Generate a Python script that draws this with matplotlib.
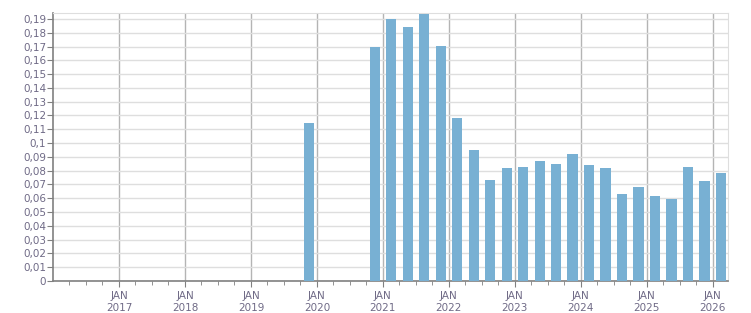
import matplotlib
matplotlib.use("Agg")
import matplotlib.pyplot as plt
from matplotlib.ticker import FixedLocator, FuncFormatter

# Quarterly data: (year, quarter) -> value
quarters = ["2019Q4", "2020Q4", "2021Q1", "2021Q2", "2021Q3", "2021Q4",
            "2022Q1", "2022Q2", "2022Q3", "2022Q4", "2023Q1", "2023Q2",
            "2023Q3", "2023Q4", "2024Q1", "2024Q2", "2024Q3", "2024Q4",
            "2025Q1", "2025Q2", "2025Q3", "2025Q4", "2026Q1"]
values = [0.1146, 0.1697, 0.1900, 0.1842, 0.1936, 0.1704,
          0.1182, 0.0950, 0.0732, 0.0820, 0.0827, 0.0870,
          0.0848, 0.0921, 0.0841, 0.0819, 0.0633, 0.0682,
          0.0616, 0.0595, 0.0827, 0.0725, 0.0783]
years = list(range(2017, 2027))
year_labels = [f"JAN\n{y}" for y in years]

def qpos(q):
    y = int(q[:4]); n = int(q[-1])
    return y + (n - 1) * 0.25 + 0.125

xs = [qpos(q) for q in quarters]

fig = plt.figure(figsize=(7.51, 3.13), dpi=100)
W, H = 751, 313
ax = fig.add_axes([53 / W, (H - 281) / H, 675 / W, (281 - 13) / H])

text_color = "#6f6a86"
ax.bar(xs, values, width=0.155, color="#78b0d3", zorder=3)

ax.set_xlim(2016.0, 2026.23)
ax.set_ylim(0, 0.1943)

yt = [i / 100 for i in range(0, 20)]
ax.yaxis.set_major_locator(FixedLocator(yt))
def fmt(v, pos):
    s = f"{v:.2f}".rstrip("0").rstrip(".")
    return s.replace(".", ",")
ax.yaxis.set_major_formatter(FuncFormatter(fmt))

ax.set_xticks(years)
ax.set_xticklabels(year_labels)
minor = [2016 + k * 0.25 for k in range(0, 41) if (k % 4) != 0]
ax.set_xticks(minor, minor=True)

ax.grid(axis="y", color="#dedede", linewidth=1, zorder=0)
ax.grid(axis="x", which="major", color="#b4b4b4", linewidth=1, zorder=0)

for s in ["top", "right"]:
    ax.spines[s].set_color("#dedede")
for s in ["left", "bottom"]:
    ax.spines[s].set_color("#808080")
    ax.spines[s].set_linewidth(1.2)

ax.tick_params(axis="y", length=4, color="#808080", labelsize=7.5,
               labelcolor=text_color, pad=1)
ax.tick_params(axis="x", which="major", length=4, color="#808080",
               labelsize=7.5, labelcolor=text_color, pad=3)
ax.tick_params(axis="x", which="minor", length=3, color="#808080")
for lbl in ax.get_xticklabels():
    lbl.set_linespacing(1.3)

fig.savefig("out.png", dpi=100)
